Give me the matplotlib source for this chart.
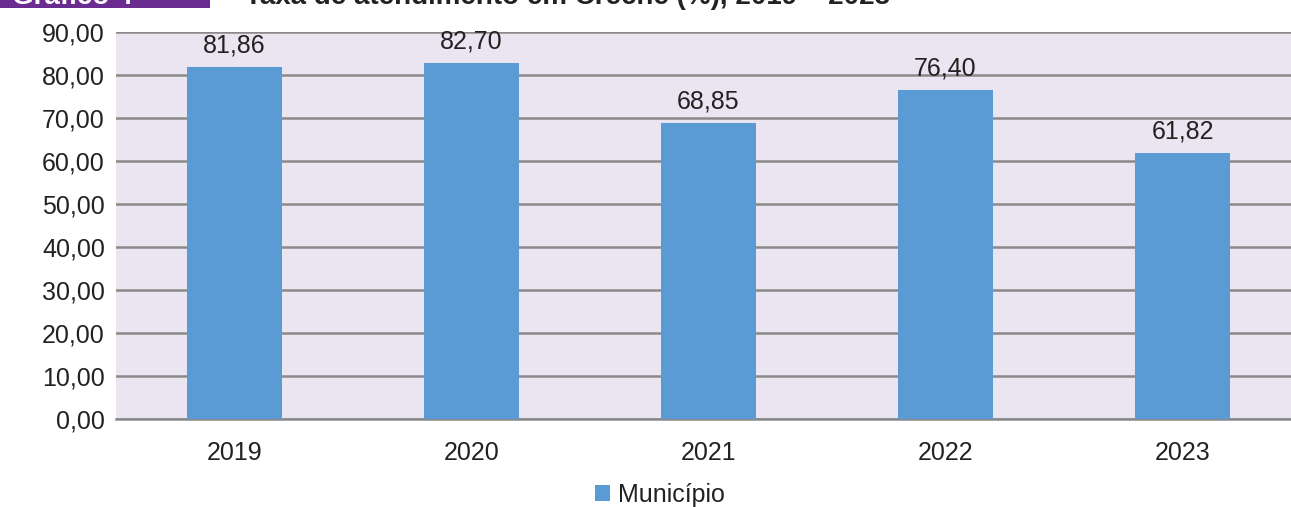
import matplotlib
matplotlib.use("Agg")
import matplotlib.pyplot as plt
from matplotlib.patches import Rectangle

years = ["2019", "2020", "2021", "2022", "2023"]
municipio = [81.86, 82.70, 68.85, 76.40, 61.82]
y_ticks = [0, 10, 20, 30, 40, 50, 60, 70, 80, 90]

plt.rcParams["font.family"] = ["Liberation Sans", "DejaVu Sans"]

W, H = 1291, 507
fig = plt.figure(figsize=(W / 100, H / 100), dpi=100)
fig.patch.set_facecolor("white")

# plot area in pixels: left 116, right 1301 (runs past the edge), top 32, bottom 419
left, right, top, bottom = 116, 1301, 32, 419
ax = fig.add_axes([left / W, 1 - bottom / H, (right - left) / W, (bottom - top) / H])
ax.set_facecolor("#EAE5F0")

x = list(range(len(years)))
ax.bar(x, municipio, width=0.4, color="#5B9BD5", zorder=3, label="Município")

for xi, v in zip(x, municipio):
    ax.annotate(f"{v:.2f}".replace(".", ","), (xi, v), xytext=(0, 7),
                textcoords="offset points", ha="center", va="bottom",
                fontsize=18, color="#222222", zorder=4)

ax.set_xlim(-0.5, 4.5)
ax.set_ylim(0, 90)
ax.set_yticks(y_ticks)
ax.set_yticklabels([f"{t:.2f}".replace(".", ",") for t in y_ticks], fontsize=18, color="#222222")
ax.set_xticks(x)
ax.set_xticklabels(years, fontsize=18, color="#222222")
ax.tick_params(axis="both", length=0)
ax.tick_params(axis="y", pad=8)
ax.tick_params(axis="x", pad=16)
ax.grid(axis="y", color="#8A8A8A", linewidth=1.8, zorder=1)
for s in ["left", "right", "top"]:
    ax.spines[s].set_visible(False)
ax.spines["bottom"].set_color("#8A8A8A")
ax.spines["bottom"].set_linewidth(1.8)

# legend below the axis
leg = fig.legend(loc="center", bbox_to_anchor=(660 / W, 1 - 495 / H), frameon=False,
                 fontsize=18, handlelength=0.6, handleheight=0.6, handletextpad=0.3)
for t in leg.get_texts():
    t.set_color("#222222")

# heading strip at the top, mostly outside the frame
fig.patches.append(Rectangle((0, 1 - 8 / H), 210 / W, 40 / H, transform=fig.transFigure,
                             facecolor="#6B2C91", edgecolor="none"))
fig.text(12 / W, 1 - 4 / H, "Gráfico 4", fontsize=20, fontweight="bold", color="white",
         va="baseline", ha="left")
fig.text(245 / W, 1 - 4 / H, "Taxa de atendimento em Creche (%), 2019 – 2023",
         fontsize=20, fontweight="bold", color="#222222", va="baseline", ha="left")

fig.savefig("out.png", dpi=100, facecolor="white")
